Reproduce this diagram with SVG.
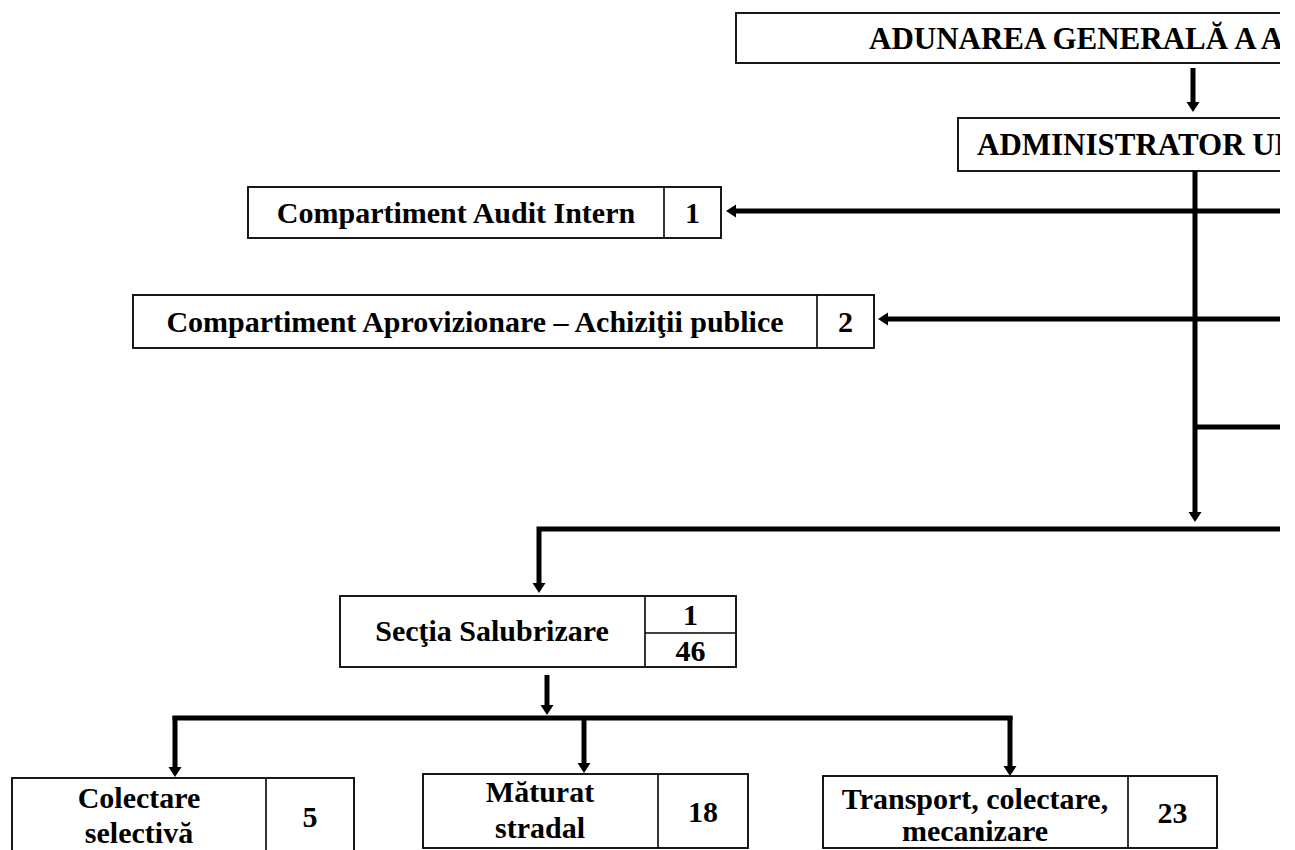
<svg xmlns="http://www.w3.org/2000/svg" width="1295" height="850" viewBox="0 0 1295 850">
<style>
.box{fill:#fff;stroke:#000;stroke-width:1.8}
.div{stroke:#000;stroke-width:1.6;fill:none}
.t{font-family:"Liberation Serif","Times New Roman",serif;font-weight:bold;font-size:30px;fill:#000;text-anchor:middle}
.ts{font-family:"Liberation Serif","Times New Roman",serif;font-weight:bold;font-size:31px;fill:#000;text-anchor:start}
.c{stroke:#000;stroke-width:5;fill:none}
.ca{stroke:#000;stroke-width:5;fill:none;marker-end:url(#ah)}
</style>
<defs>
<marker id="ah" markerUnits="userSpaceOnUse" markerWidth="12" markerHeight="14" refX="0" refY="7" orient="auto">
<path d="M0,0.5 L10,7 L0,13.5 Z" fill="#000"/>
</marker>
<clipPath id="clip"><rect x="0" y="0" width="1280" height="850"/></clipPath>
</defs>
<rect width="1295" height="850" fill="#fff"/>
<g clip-path="url(#clip)">
<g id="connectors">
<line class="ca" x1="1193" y1="68" x2="1193" y2="102"/>
<line class="ca" x1="1195" y1="171" x2="1195" y2="512"/>
<line class="ca" x1="1280" y1="211" x2="736" y2="211"/>
<line class="ca" x1="1280" y1="319" x2="888" y2="319"/>
<line class="c" x1="1195" y1="427" x2="1280" y2="427"/>
<polyline class="c" points="1280,529 539,529 539,560"/>
<line class="ca" x1="539" y1="560" x2="539" y2="583"/>
<line class="ca" x1="547" y1="675" x2="547" y2="705"/>
<line class="c" x1="172.5" y1="718" x2="1012.5" y2="718"/>
<line class="ca" x1="175" y1="716" x2="175" y2="767"/>
<line class="ca" x1="584" y1="716" x2="584" y2="763"/>
<line class="ca" x1="1010" y1="716" x2="1010" y2="766"/>
</g>
<g id="adunarea">
<rect class="box" x="736" y="13" width="700" height="50"/>
<text class="ts" x="869" y="49">ADUNAREA GENERALĂ A A</text>
</g>
<g id="administrator">
<rect class="box" x="958" y="118" width="500" height="53"/>
<text class="ts" x="977" y="155" font-size="31.6">ADMINISTRATOR UN</text>
</g>
</g>
<g id="audit">
<rect class="box" x="248" y="187" width="473" height="51"/>
<line class="div" x1="664" y1="187" x2="664" y2="238"/>
<text class="t" x="456" y="223">Compartiment Audit Intern</text>
<text class="t" x="692.5" y="223">1</text>
</g>
<g id="aprovizionare">
<rect class="box" x="133" y="295" width="741" height="53"/>
<line class="div" x1="817" y1="295" x2="817" y2="348"/>
<text class="t" x="475" y="332">Compartiment Aprovizionare – Achiziţii publice</text>
<text class="t" x="845.5" y="332">2</text>
</g>
<g id="sectia">
<rect class="box" x="340" y="596" width="396" height="71"/>
<line class="div" x1="645" y1="596" x2="645" y2="667"/>
<line class="div" x1="645" y1="633" x2="736" y2="633"/>
<text class="t" x="492" y="641">Secţia Salubrizare</text>
<text class="t" x="690.5" y="625">1</text>
<text class="t" x="690.5" y="661">46</text>
</g>
<g id="colectare">
<rect class="box" x="12" y="778" width="342" height="90"/>
<line class="div" x1="266" y1="778" x2="266" y2="868"/>
<text class="t" x="139" y="808">Colectare</text>
<text class="t" x="139" y="843">selectivă</text>
<text class="t" x="310" y="827">5</text>
</g>
<g id="maturat">
<rect class="box" x="423" y="774" width="325" height="74"/>
<line class="div" x1="658" y1="774" x2="658" y2="848"/>
<text class="t" x="540" y="802">Măturat</text>
<text class="t" x="540" y="838">stradal</text>
<text class="t" x="703" y="822">18</text>
</g>
<g id="transport">
<rect class="box" x="823" y="776" width="394" height="72"/>
<line class="div" x1="1128" y1="776" x2="1128" y2="848"/>
<text class="t" x="975" y="809">Transport, colectare,</text>
<text class="t" x="975" y="841">mecanizare</text>
<text class="t" x="1172.5" y="823">23</text>
</g>
</svg>
